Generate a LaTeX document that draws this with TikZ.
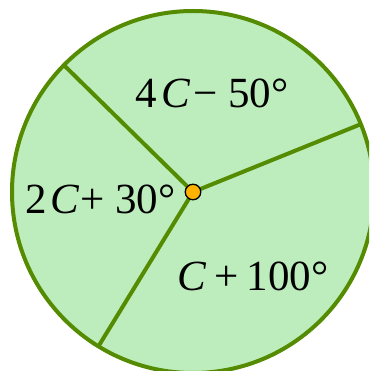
\documentclass[tikz,border=0pt]{standalone}
\usepackage{fontspec}
\setmainfont{Liberation Serif}
\definecolor{sectorfill}{HTML}{BDEDBD}
\definecolor{rimgreen}{HTML}{558B00}
\definecolor{dotorange}{HTML}{FFB300}
\begin{document}
\begin{tikzpicture}[x=1pt,y=-1pt,
  rim/.style={draw=rimgreen,line width=4pt},
  lbl/.style={anchor=base west,inner sep=0pt,font=\fontsize{43}{45}\selectfont},
  hub/.style={circle,draw=black,fill=dotorange,line width=1.3pt,minimum size=15.5pt,inner sep=0pt}]
\useasboundingbox (0,0) rectangle (369,371);
\clip (0,0) rectangle (369,371);
\coordinate (O) at (193,192);
\fill[sectorfill] (O) circle[radius=181pt];
\draw[rim] (O) circle[radius=181pt];
\path (O) ++(22:181pt) coordinate (A);
\path (O) ++(135.5:181pt) coordinate (B);
\path (O) ++(238.5:181pt) coordinate (Cc);
\draw[rim] (O) -- (A);
\draw[rim] (O) -- (B);
\draw[rim] (O) -- (Cc);
\node[hub] (hubdot) at (O) {};
\node[lbl] (t1) at (135,108) {4\hspace{5pt}\textit{C}\hspace{3pt}−\hspace{10pt}50°};
\node[lbl] (t2) at (25,213) {2\hspace{4pt}\textit{C}\hspace{1pt}+\hspace{10pt}30°};
\node[lbl] (t3) at (177,290) {\textit{C}\hspace{8pt}+\hspace{8pt}100°};
\end{tikzpicture}
\end{document}
